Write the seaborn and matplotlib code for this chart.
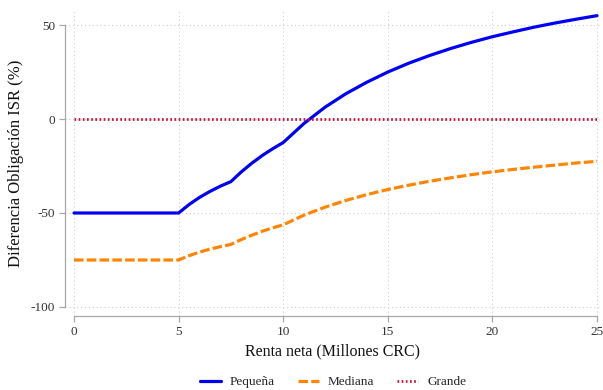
import numpy as np
import pandas as pd
import matplotlib
matplotlib.use("Agg")
import matplotlib.pyplot as plt
import seaborn as sns

# Valores
renta = [0, 5, 5.5, 6, 6.5, 7, 7.5, 8, 8.5, 9, 9.5, 10, 11, 12, 13, 14, 15,
         16, 17, 18, 19, 20, 21, 22, 23, 24, 25]
pequena = [-50, -50, -45.5, -41.7, -38.5, -35.7, -33.3, -28.1, -23.5, -19.4, -15.8, -12.5,
           -2.3, 6.3, 13.5, 19.6, 25.0, 29.7, 33.8, 37.5, 40.8, 43.8, 46.4, 48.9, 51.1, 53.1, 55.0]
mediana = [-75, -75, -72.7, -70.8, -69.2, -67.9, -66.7, -64.1, -61.8, -59.7, -57.9, -56.3,
           -51.1, -46.9, -43.3, -40.2, -37.5, -35.2, -33.1, -31.3, -29.6, -28.1, -26.8, -25.6,
           -24.5, -23.4, -22.5]
grande = [0] * len(renta)

xticks = [0, 5, 10, 15, 20, 25]
yticks = [-100, -50, 0, 50]

sns.set_style("white")
plt.rcParams["font.family"] = ["Liberation Serif", "DejaVu Serif"]
plt.rcParams["axes.unicode_minus"] = False

fig = plt.figure(figsize=(6.03, 3.9), dpi=100)
ax = fig.add_axes([65 / 603, 74 / 390, 535 / 603, 306 / 390])

sns.lineplot(x=renta, y=pequena, ax=ax, color="#0000f5", lw=2.3, label="Pequeña")
sns.lineplot(x=renta, y=mediana, ax=ax, color="#ff8505", lw=2.3, label="Mediana",
             linestyle=(0, (3.0, 1.0)))
sns.lineplot(x=renta, y=grande, ax=ax, color="#d0103a", lw=2.0, label="Grande",
             linestyle=(0, (0.6, 0.9)))

ax.set_xlim(-0.43, 25.14)
ax.set_ylim(-104.8, 58)
ax.set_xticks(xticks)
ax.set_yticks(yticks)
ax.grid(True, color="#cfcfcf", linestyle=(0, (1, 2.5)), lw=0.8)

for s in ["top", "right"]:
    ax.spines[s].set_visible(False)
ax.spines["left"].set_bounds(-100, 50)
ax.spines["bottom"].set_bounds(0, 25)
for s in ["left", "bottom"]:
    ax.spines[s].set_color("#a8a8a8")
    ax.spines[s].set_linewidth(0.9)
ax.tick_params(axis="both", direction="out", length=4, width=0.9, color="#a8a8a8",
               labelsize=9.5, labelcolor="#333333", bottom=True, left=True, pad=3)

ax.set_xlabel("Renta neta (Millones CRC)", fontsize=11.5, color="#111111", labelpad=4)
ax.set_ylabel("Diferencia Obligación ISR (%)", fontsize=12, color="#111111", labelpad=5)

handles, labels = ax.get_legend_handles_labels()
ax.get_legend().remove()
fig.legend(handles, labels, loc="center", bbox_to_anchor=(333 / 603, 1 - 382 / 390),
           ncol=3, frameon=False, fontsize=9.5, handlelength=1.6, columnspacing=1.7,
           handletextpad=0.7, borderpad=0, borderaxespad=0)

fig.savefig("out.png", dpi=100)
